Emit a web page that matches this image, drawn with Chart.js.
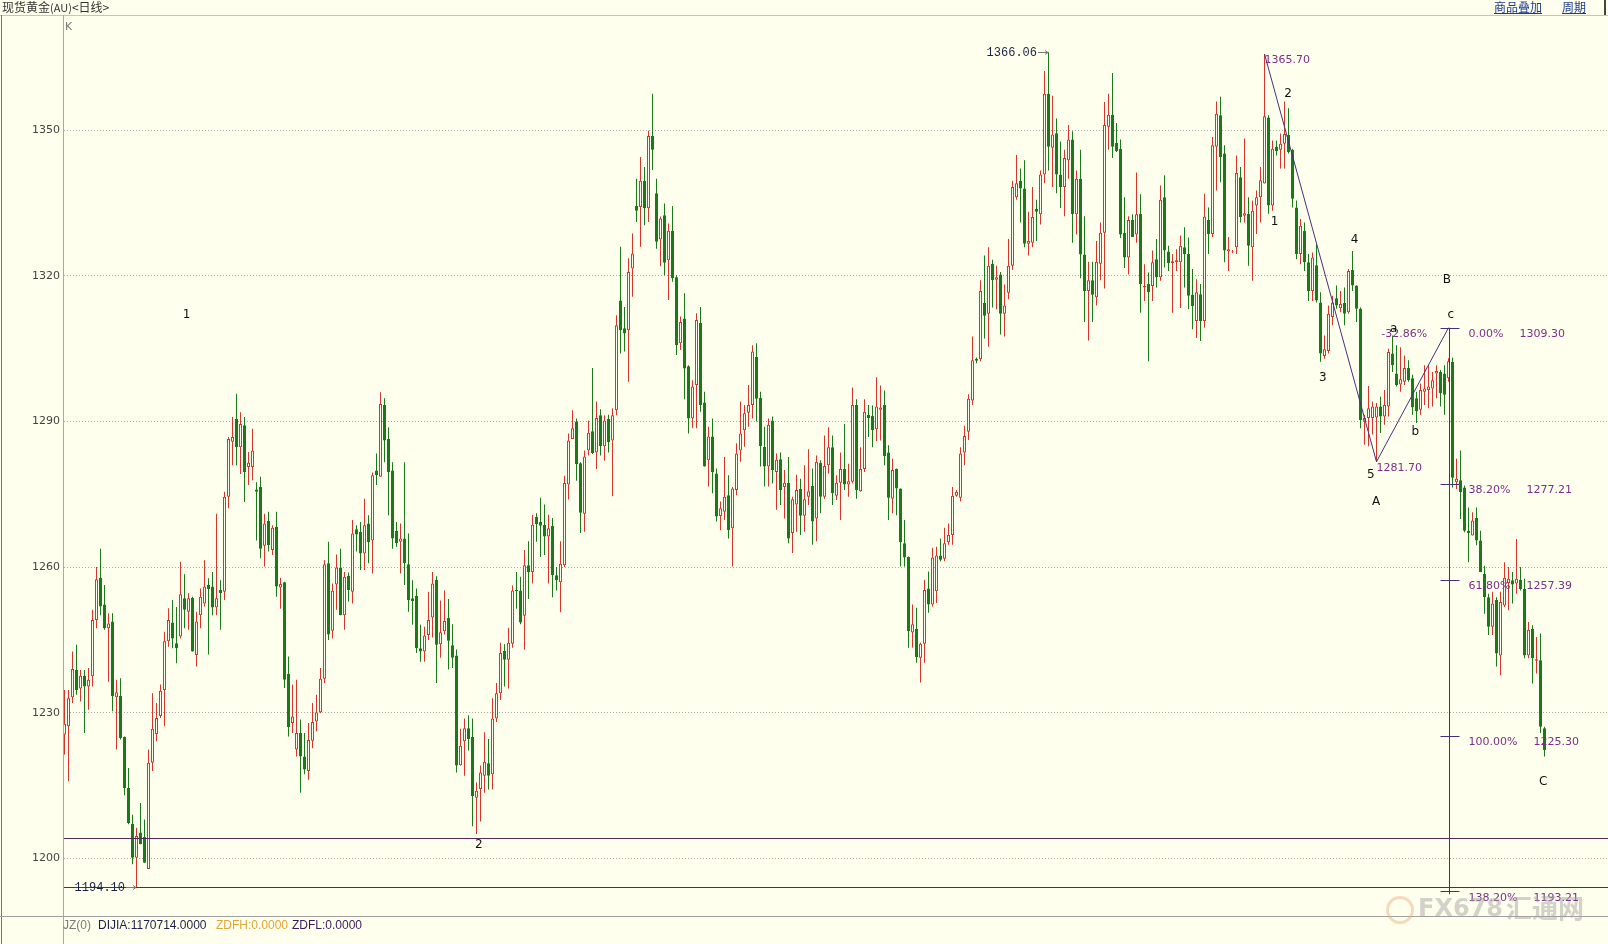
<!DOCTYPE html>
<html><head><meta charset="utf-8">
<script src="https://cdn.jsdelivr.net/npm/chart.js@4.4.0/dist/chart.umd.min.js"></script>
<style>
html,body{margin:0;padding:0;background:#ffffee;width:1608px;height:944px;overflow:hidden;}
#wrap{position:relative;width:1608px;height:944px;}
canvas{position:absolute;left:0;top:0;}
.abs{position:absolute;white-space:nowrap;}
.ln{position:absolute;}
</style></head><body>
<div id="wrap">
<canvas id="c" width="1608" height="944"></canvas>
<div class="abs" style="left:2px;top:0px;font:12px 'Noto Sans CJK SC';line-height:14px;color:#333;">现货黄金<span style="font-size:11px">(AU)</span>&lt;日线&gt;</div>
<div class="abs" style="left:1494px;top:0px;font:12px 'Noto Sans CJK SC';line-height:14px;color:#1b3c8f;text-decoration:underline;">商品叠加</div>
<div class="abs" style="left:1562px;top:0px;font:12px 'Noto Sans CJK SC';line-height:14px;color:#1b3c8f;text-decoration:underline;">周期</div>
<div class="ln" style="left:1604px;top:0;width:2px;height:15px;background:#444;"></div>
<div class="ln" style="left:0;top:15px;width:1608px;height:1px;background:#c4c4c4;"></div>
<div class="ln" style="left:63px;top:15px;width:1px;height:929px;background:#a8a8a8;"></div>
<div class="ln" style="left:1px;top:15px;width:1px;height:929px;background:#5f7896;"></div>
<div class="ln" style="left:0;top:916px;width:1608px;height:1px;background:#a0a0a0;"></div>
<div class="abs" style="left:65px;top:20px;font:11px 'DejaVu Sans';line-height:14px;color:#777;">K</div>
<div class="abs" style="left:63px;top:918px;font:12px 'Liberation Sans';line-height:14px;color:#7a7a7a;">JZ(0)</div>
<div class="abs" style="left:98px;top:918px;font:12px 'Liberation Sans';line-height:14px;color:#1c1f4a;">DIJIA:1170714.0000</div>
<div class="abs" style="left:216px;top:918px;font:12px 'Liberation Sans';line-height:14px;color:#e0a43a;">ZDFH:0.0000</div>
<div class="abs" style="left:292px;top:918px;font:12px 'Liberation Sans';line-height:14px;color:#3a1c5a;">ZDFL:0.0000</div>
<div class="abs" style="left:1386px;top:896px;width:22px;height:22px;border-radius:50%;border:3px solid rgba(235,170,120,0.45);"></div>
<div class="abs" style="left:1418px;top:893px;font:bold 24px 'DejaVu Sans';line-height:30px;color:rgba(165,165,165,0.5);">FX678</div>
<div class="abs" style="left:1506px;top:892px;font:bold 26px 'Noto Sans CJK SC';line-height:30px;color:rgba(165,165,165,0.5);">汇通网</div>
</div>
<script>
// ---- data (daily candles) ----
const openP = [
1225.5,1227.2,1233.2,1238.8,1235.0,1237.6,1235.4,1237.5,1249.1,1257.8,
1252.3,1247.4,1248.8,1233.2,1233.5,1225.0,1214.5,1207.1,1200.1,1205.3,
1204.4,1197.8,1219.7,1225.6,1229.3,1234.7,1244.7,1248.6,1244.3,1245.7,
1253.6,1250.8,1253.7,1241.9,1250.1,1252.5,1256.3,1256.0,1251.7,1255.3,
1254.9,1274.5,1285.8,1290.5,1284.7,1289.2,1280.6,1280.6,1276.0,1276.5,
1264.4,1269.5,1263.5,1268.3,1255.8,1256.9,1238.0,1227.9,1222.4,1225.8,
1221.0,1218.0,1224.2,1228.2,1230.1,1237.0,1260.8,1246.9,1256.4,1259.9,
1250.1,1258.2,1254.9,1267.8,1267.3,1262.8,1269.0,1265.5,1279.9,1278.6,
1293.4,1286.4,1279.9,1267.5,1265.2,1265.9,1260.6,1253.6,1254.1,1243.3,
1242.6,1246.0,1249.6,1257.4,1244.1,1246.8,1249.5,1243.9,1241.8,1219.2,
1224.1,1226.8,1225.0,1212.5,1214.3,1217.0,1219.6,1217.3,1228.8,1234.0,
1242.7,1240.9,1244.2,1255.3,1255.2,1250.0,1260.4,1259.0,1270.3,1269.3,
1268.7,1266.3,1268.5,1258.3,1256.9,1260.4,1277.0,1286.4,1290.0,1281.4,
1271.0,1284.0,1288.0,1283.6,1291.3,1284.9,1290.5,1286.1,1292.3,1314.9,
1309.2,1308.8,1321.5,1334.4,1334.2,1339.6,1333.9,1348.8,1337.0,1327.5,
1332.5,1323.2,1329.3,1319.7,1306.1,1311.2,1301.4,1290.6,1297.5,1310.3,
1293.9,1282.0,1286.9,1279.3,1270.5,1271.4,1274.8,1268.0,1275.9,1284.0,
1288.2,1291.8,1293.4,1303.3,1294.9,1284.8,1280.7,1290.2,1279.6,1282.2,
1276.5,1277.4,1267.0,1272.9,1276.1,1270.6,1274.5,1276.7,1270.0,1281.5,
1274.5,1281.0,1284.7,1274.7,1277.4,1280.2,1277.0,1277.6,1293.4,1275.6,
1280.2,1291.4,1291.1,1288.4,1292.4,1293.4,1283.6,1274.1,1280.2,1276.2,
1264.9,1262.1,1246.5,1247.3,1241.3,1244.2,1255.6,1252.3,1255.0,1262.4,
1261.7,1265.1,1266.6,1274.7,1274.3,1283.6,1287.9,1294.3,1302.9,1302.8,
1314.4,1312.2,1322.5,1319.2,1320.3,1312.2,1316.5,1322.1,1336.2,1339.6,
1338.0,1326.6,1326.8,1333.8,1332.7,1340.9,1357.5,1346.4,1349.4,1340.9,
1338.3,1343.8,1348.1,1332.7,1340.0,1324.4,1316.9,1319.1,1315.6,1322.5,
1328.9,1350.7,1353.2,1347.4,1346.2,1328.9,1323.8,1331.5,1328.5,1332.8,
1317.6,1318.3,1317.9,1323.4,1319.7,1336.2,1325.0,1322.6,1322.8,1322.8,
1325.9,1324.5,1316.1,1310.7,1316.2,1310.7,1331.5,1328.6,1346.6,1353.1,
1345.2,1325.0,1325.0,1325.9,1340.3,1332.4,1332.8,1325.9,1334.5,1336.2,
1339.0,1352.6,1334.5,1346.6,1346.0,1347.2,1349.0,1345.9,1334.1,1324.5,
1329.3,1322.8,1316.9,1322.2,1314.5,1303.5,1304.5,1311.5,1315.4,1313.3,
1314.4,1312.5,1321.2,1318.0,1313.2,1290.0,1290.7,1290.7,1290.8,1293.1,
1291.0,1293.1,1304.0,1299.9,1297.6,1298.2,1301.0,1298.9,1294.8,1292.4,
1296.1,1296.5,1296.8,1299.9,1300.2,1299.9,1298.9,1302.3,1277.5,1277.9,
1276.4,1267.5,1266.5,1270.1,1265.5,1258.6,1253.8,1247.7,1253.2,1241.8,
1252.1,1256.7,1257.3,1256.6,1257.4,1255.5,1241.8,1247.3,1240.7,1240.8,1226.8
];
const highP = [
1234.7,1234.7,1242.6,1244.0,1238.8,1238.8,1239.2,1251.2,1260.0,1263.8,
1256.3,1250.5,1250.5,1236.8,1237.1,1225.1,1218.6,1209.0,1206.3,1211.4,
1208.0,1222.4,1234.0,1232.0,1235.8,1246.7,1251.5,1253.2,1251.8,1261.1,
1258.5,1254.6,1253.9,1250.8,1255.6,1261.4,1257.7,1259.0,1271.0,1257.3,
1275.5,1286.8,1290.9,1295.7,1291.9,1290.9,1283.7,1288.5,1277.5,1278.6,
1271.0,1271.4,1268.6,1271.4,1257.8,1257.0,1241.6,1235.8,1236.8,1228.6,
1225.8,1227.9,1232.0,1233.7,1239.2,1261.4,1265.2,1256.6,1262.6,1263.8,
1259.0,1258.9,1269.7,1268.6,1269.3,1274.1,1270.7,1279.5,1283.4,1296.0,
1294.8,1288.8,1281.6,1269.3,1269.0,1281.6,1266.9,1257.3,1255.6,1248.1,
1247.7,1254.9,1259.0,1258.1,1253.1,1255.2,1253.4,1248.2,1243.0,1226.7,
1228.8,1229.5,1228.8,1215.6,1219.1,1226.0,1224.6,1233.0,1236.1,1244.4,
1244.1,1247.5,1256.2,1259.0,1258.0,1263.5,1265.3,1270.8,1271.1,1274.3,
1272.9,1270.8,1270.1,1260.0,1265.3,1278.8,1287.5,1292.3,1290.6,1281.6,
1284.0,1290.2,1301.0,1294.1,1292.5,1291.3,1291.4,1292.7,1311.9,1326.0,
1313.6,1323.6,1328.7,1340.0,1344.5,1342.4,1349.9,1357.5,1340.0,1332.2,
1334.9,1330.8,1334.4,1320.1,1311.6,1316.4,1301.6,1298.5,1312.3,1313.6,
1296.1,1288.9,1290.6,1280.3,1273.5,1282.7,1278.9,1276.5,1285.5,1294.1,
1293.4,1297.5,1305.7,1306.1,1296.1,1288.9,1290.6,1291.0,1283.4,1283.6,
1280.0,1282.7,1274.5,1279.0,1278.2,1281.0,1284.3,1280.3,1283.0,1282.0,
1287.1,1288.8,1287.1,1278.9,1283.6,1289.5,1281.3,1297.0,1294.6,1284.7,
1294.6,1293.4,1293.3,1299.1,1297.4,1296.4,1285.1,1282.3,1280.3,1276.2,
1269.7,1262.2,1252.3,1251.6,1244.4,1257.4,1259.1,1264.0,1264.2,1265.9,
1268.1,1269.0,1276.5,1275.9,1284.7,1289.1,1295.6,1307.5,1303.2,1319.1,
1324.2,1325.9,1323.3,1322.1,1320.8,1318.2,1327.6,1339.6,1344.9,1342.1,
1343.8,1333.2,1338.3,1335.7,1341.7,1362.2,1366.06,1357.1,1352.4,1347.7,
1346.0,1351.1,1349.8,1341.7,1346.0,1332.3,1322.9,1322.9,1327.2,1331.0,
1355.8,1357.5,1361.8,1351.5,1348.1,1336.2,1332.3,1332.7,1341.3,1336.8,
1322.4,1320.7,1325.2,1327.6,1338.6,1340.7,1326.2,1324.5,1325.5,1328.3,
1330.0,1327.9,1321.4,1319.3,1318.3,1336.9,1334.1,1348.6,1355.9,1356.9,
1346.9,1328.0,1325.3,1344.8,1342.4,1348.3,1336.2,1335.5,1337.6,1342.4,
1365.7,1353.1,1347.9,1347.9,1349.3,1355.9,1354.5,1346.2,1335.5,1331.7,
1331.0,1324.5,1324.8,1326.5,1316.6,1307.7,1313.9,1315.9,1318.0,1316.9,
1317.6,1321.4,1325.1,1318.0,1313.5,1291.4,1297.3,1294.1,1293.8,1295.1,
1296.5,1305.0,1307.7,1305.7,1305.3,1303.6,1302.6,1299.6,1296.1,1297.8,
1301.6,1301.6,1300.2,1301.6,1300.6,1301.6,1303.0,1303.2,1282.3,1284.0,
1276.8,1272.3,1271.3,1272.3,1267.5,1260.3,1254.5,1254.9,1253.8,1254.9,
1261.0,1260.0,1259.0,1265.8,1260.0,1257.6,1248.7,1248.0,1245.6,1246.3,1227.1
];
const lowP = [
1221.4,1215.9,1232.0,1233.7,1232.3,1225.8,1230.6,1235.4,1247.4,1250.1,
1247.1,1236.4,1230.3,1222.4,1224.5,1213.0,1207.0,1198.8,1194.1,1202.9,
1199.1,1197.8,1218.0,1224.1,1228.9,1227.2,1243.6,1243.3,1240.2,1245.3,
1247.4,1247.1,1242.6,1239.5,1247.4,1251.9,1242.0,1250.1,1250.1,1247.1,
1253.2,1272.1,1281.0,1281.0,1279.2,1273.4,1276.9,1277.9,1265.5,1261.8,
1260.1,1263.2,1262.5,1253.9,1251.4,1235.1,1225.1,1225.8,1221.0,1213.5,
1217.3,1216.2,1222.7,1226.2,1229.9,1236.1,1245.0,1245.3,1251.2,1250.1,
1247.1,1252.9,1252.5,1263.2,1259.4,1259.4,1260.8,1258.7,1276.9,1278.6,
1281.6,1270.7,1263.8,1264.2,1258.7,1256.3,1250.8,1248.1,1242.3,1240.5,
1240.5,1245.0,1245.5,1236.1,1241.3,1246.1,1238.9,1239.2,1217.7,1219.1,
1217.0,1222.2,1206.6,1205.0,1207.6,1213.5,1214.2,1214.2,1228.1,1232.6,
1235.4,1235.0,1243.4,1251.4,1248.2,1243.0,1253.4,1256.6,1265.2,1262.1,
1262.5,1256.6,1253.8,1255.2,1250.7,1260.0,1273.9,1286.4,1277.8,1267.0,
1267.3,1283.0,1283.3,1280.2,1283.0,1281.9,1283.6,1274.6,1291.3,1304.0,
1304.4,1298.2,1315.7,1331.1,1326.0,1330.4,1331.1,1341.8,1325.6,1322.0,
1320.1,1315.0,1318.8,1303.7,1304.7,1294.6,1287.5,1288.6,1288.6,1292.0,
1280.7,1276.6,1275.2,1269.4,1267.6,1269.7,1265.9,1260.1,1274.8,1281.7,
1284.8,1288.9,1290.6,1290.0,1280.7,1276.6,1276.6,1277.2,1271.8,1272.8,
1270.0,1264.9,1262.9,1267.3,1266.6,1267.3,1272.8,1264.6,1265.3,1271.1,
1274.1,1279.3,1272.8,1273.8,1269.7,1275.9,1274.5,1277.2,1274.1,1275.5,
1279.6,1286.8,1284.7,1285.9,1286.1,1281.0,1269.7,1271.1,1270.7,1260.1,
1260.1,1243.4,1243.4,1240.3,1236.2,1240.3,1250.6,1251.9,1252.6,1261.2,
1261.2,1264.6,1264.6,1274.5,1273.5,1281.0,1286.2,1293.4,1302.0,1302.4,
1307.1,1305.4,1313.5,1313.1,1307.9,1307.5,1315.2,1321.2,1335.7,1331.0,
1325.9,1324.2,1325.9,1327.2,1330.6,1339.1,1341.7,1338.3,1337.0,1334.0,
1332.3,1340.0,1326.8,1328.5,1319.5,1310.5,1306.7,1310.5,1313.9,1319.1,
1317.4,1346.0,1344.3,1345.5,1327.8,1321.6,1320.3,1328.0,1326.8,1312.4,
1314.8,1302.4,1314.8,1317.6,1319.0,1321.7,1321.0,1312.4,1321.0,1313.4,
1317.6,1313.1,1309.0,1307.2,1306.6,1309.3,1324.5,1328.0,1337.6,1339.3,
1322.8,1321.0,1324.7,1324.5,1331.0,1331.0,1322.1,1319.0,1328.6,1331.0,
1339.0,1332.8,1333.4,1344.8,1342.1,1342.1,1345.2,1334.1,1323.4,1322.4,
1321.0,1314.8,1314.8,1314.5,1302.3,1302.9,1304.0,1309.8,1313.2,1312.5,
1309.8,1312.2,1316.9,1310.5,1288.6,1285.2,1284.9,1287.3,1281.7,1287.6,
1289.3,1291.0,1300.2,1297.2,1296.1,1297.5,1298.2,1291.4,1289.7,1291.4,
1293.4,1292.7,1293.1,1294.8,1293.1,1291.4,1298.2,1276.4,1276.1,1269.9,
1267.2,1261.0,1266.5,1264.5,1259.0,1250.4,1246.0,1246.0,1239.5,1237.7,
1251.8,1251.1,1252.5,1254.5,1255.2,1241.2,1241.2,1236.0,1238.1,1225.8,1221.0
];
const closeP = [
1227.7,1233.0,1239.0,1234.7,1237.6,1235.4,1236.8,1249.1,1257.5,1251.9,
1247.4,1248.4,1233.4,1234.2,1224.8,1214.5,1207.3,1200.1,1204.6,1202.9,
1199.1,1219.7,1226.7,1228.9,1234.5,1244.7,1249.1,1245.3,1243.3,1254.4,
1251.2,1253.6,1242.6,1248.8,1253.9,1256.0,1255.5,1251.7,1253.6,1254.6,
1274.5,1286.4,1286.8,1284.7,1289.5,1279.6,1281.5,1284.0,1275.5,1263.8,
1269.0,1264.5,1268.1,1256.0,1256.5,1236.8,1227.0,1229.2,1225.8,1221.0,
1218.3,1224.4,1228.1,1230.1,1237.0,1260.6,1246.1,1255.1,1259.9,1250.1,
1258.0,1255.3,1266.9,1266.7,1262.8,1268.6,1265.1,1278.9,1278.9,1293.6,
1286.1,1279.6,1265.9,1264.9,1265.9,1260.8,1253.2,1253.0,1243.3,1242.6,
1245.9,1249.1,1256.6,1244.0,1246.6,1248.9,1244.8,1241.3,1219.1,1223.2,
1226.8,1224.6,1212.8,1213.9,1217.7,1219.9,1217.0,1228.8,1234.0,1242.3,
1240.9,1244.4,1255.2,1255.0,1248.6,1260.4,1259.0,1268.7,1268.9,1268.5,
1266.3,1268.0,1258.3,1257.3,1260.7,1277.3,1286.1,1288.6,1281.2,1271.2,
1282.8,1287.7,1283.5,1290.7,1284.9,1290.2,1285.7,1291.3,1309.8,1308.8,
1308.1,1320.8,1324.6,1333.4,1339.6,1333.9,1348.8,1346.0,1327.0,1331.8,
1322.7,1329.3,1319.5,1305.7,1310.5,1300.9,1290.6,1297.2,1310.9,1293.4,
1280.7,1286.9,1279.6,1270.4,1272.1,1274.5,1267.6,1276.2,1283.4,1287.5,
1291.7,1293.4,1304.4,1294.7,1284.9,1280.7,1289.3,1280.0,1282.1,1275.9,
1277.4,1265.9,1274.0,1275.9,1270.6,1274.0,1275.6,1269.4,1281.7,1274.5,
1280.8,1284.7,1275.2,1277.4,1280.2,1277.0,1277.7,1293.4,1275.9,1280.2,
1292.0,1290.7,1288.2,1293.1,1292.9,1282.9,1274.3,1280.0,1276.2,1265.1,
1262.0,1246.8,1248.2,1241.5,1244.2,1255.3,1252.3,1262.0,1262.4,1261.5,
1264.9,1266.6,1274.7,1275.5,1283.4,1287.0,1294.7,1302.6,1302.5,1316.9,
1311.8,1322.1,1319.1,1319.7,1312.2,1313.9,1322.1,1338.3,1339.1,1338.0,
1326.6,1327.2,1332.1,1333.2,1340.9,1357.5,1346.6,1349.1,1340.9,1338.3,
1344.3,1348.1,1332.7,1340.0,1324.4,1316.9,1319.1,1316.1,1322.9,1328.9,
1351.1,1353.2,1346.6,1345.7,1328.5,1323.8,1331.5,1328.0,1332.7,1318.3,
1317.9,1316.6,1322.8,1319.7,1335.7,1325.2,1322.6,1323.0,1323.2,1326.2,
1324.5,1315.9,1313.8,1316.6,1310.7,1332.2,1328.6,1346.9,1353.4,1344.5,
1325.2,1325.5,1325.1,1341.2,1332.1,1332.9,1326.2,1333.4,1336.2,1339.7,
1352.9,1334.5,1346.2,1345.7,1347.2,1349.2,1345.5,1335.9,1324.5,1330.3,
1322.8,1316.9,1323.8,1314.9,1304.0,1304.9,1312.2,1314.5,1313.9,1314.2,
1312.2,1321.0,1318.0,1313.2,1290.3,1290.7,1292.7,1293.1,1293.1,1291.0,
1293.4,1304.3,1301.6,1297.5,1298.7,1301.0,1298.5,1292.9,1292.1,1296.5,
1296.8,1297.2,1298.5,1300.4,1295.8,1295.5,1302.4,1278.4,1278.2,1275.4,
1267.5,1267.0,1269.6,1265.5,1259.0,1253.8,1247.7,1252.5,1242.2,1252.8,
1257.8,1257.6,1256.4,1257.6,1255.5,1241.8,1247.1,1241.2,1241.0,1227.1,1222.3
];
const yTicks = [1200, 1230, 1260, 1290, 1320, 1350];

// annotation values
const levelPrices = [1204.2, 1194.1];
const waveIdx = [300, 328, 346];
const wavePrice = [1365.70, 1281.70, 1309.30];
const fibIdx = 346;
const fibPct = ['0.00%', '38.20%', '61.80%', '100.00%', '138.20%'];
const fibPrice = [1309.30, 1277.21, 1257.39, 1225.30, 1193.21];
const waveText = ['1', '2', '1', '2', '3', '4', '5', 'a', 'b', 'c', 'B', 'A', 'C'];
const waveTextIdx = [30.5, 103.6, 302.5, 305.9, 314.6, 322.5, 326.6, 332.3, 337.7, 346.6, 345.6, 327.9, 369.7];
const waveTextPrice = [1312.0, 1202.7, 1331.2, 1357.4, 1298.9, 1327.4, 1279.0, 1309.0, 1287.9, 1312.0, 1319.1, 1273.5, 1215.8];
const ratioText = '-32.86%';
const ratioIdx = 329.2, ratioPrice = 1308.0;

const RED = '#d9342b', GREEN = '#19791b', BG = '#ffffee';
const LEVEL_COLOR = '#512a60', WAVE_COLOR = '#43307e', FIB_TEXT = '#7b2f86';

const idx = openP.map((_, i) => i);
const up = idx.map(i => closeP[i] >= openP[i]);

const annotPlugin = {
  id: 'annot',
  afterDatasetsDraw(chart) {
    const {ctx, chartArea: a, scales: {x, y}} = chart;
    const X = v => x.getPixelForValue(v), Y = v => y.getPixelForValue(v);
    const crisp = v => Math.round(v) + 0.5;
    const seg = (x1, y1, x2, y2) => { ctx.beginPath(); ctx.moveTo(x1, y1); ctx.lineTo(x2, y2); ctx.stroke(); };
    ctx.save();
    ctx.beginPath(); ctx.rect(a.left, a.top, a.right - a.left, a.bottom - a.top); ctx.clip();
    ctx.lineWidth = 1;
    // horizontal levels
    ctx.strokeStyle = LEVEL_COLOR;
    levelPrices.forEach(v => { const yy = crisp(Y(v)); seg(a.left, yy, a.right, yy); });
    // wave polyline
    ctx.strokeStyle = WAVE_COLOR;
    ctx.beginPath();
    waveIdx.forEach((v, k) => { const px = X(v), py = Y(wavePrice[k]); if (k) ctx.lineTo(px, py); else ctx.moveTo(px, py); });
    ctx.stroke();
    // fib vertical + ticks
    const fx = crisp(X(fibIdx));
    seg(fx, Y(fibPrice[0]), fx, Y(fibPrice[fibPrice.length - 1]) + 3);
    fibPrice.forEach(v => { const yy = crisp(Y(v)); seg(fx - 9, yy, fx + 10, yy); });
    // fib text
    ctx.font = '11px "DejaVu Sans"';
    ctx.fillStyle = FIB_TEXT; ctx.textBaseline = 'middle'; ctx.textAlign = 'left';
    fibPct.forEach((t, k) => {
      const yy = Y(fibPrice[k]) + 6.5, x0 = fx + 19;
      ctx.fillText(t, x0, yy);
      ctx.fillText(fibPrice[k].toFixed(2), x0 + ctx.measureText(t).width + 16, yy);
    });
    // wave point values
    waveIdx.slice(0, 2).forEach((v, k) => {
      ctx.fillText(wavePrice[k].toFixed(2), X(v), Y(wavePrice[k]) + 6.5);
    });
    ctx.fillText(ratioText, X(ratioIdx), Y(ratioPrice));
    // wave labels
    ctx.font = '12px "DejaVu Sans"'; ctx.fillStyle = '#111'; ctx.textAlign = 'center';
    waveText.forEach((t, k) => ctx.fillText(t, X(waveTextIdx[k]), Y(waveTextPrice[k])));
    // max / min tags
    let hi = 0, lo = 0;
    highP.forEach((v, i) => { if (v > highP[hi]) hi = i; });
    lowP.forEach((v, i) => { if (v < lowP[lo]) lo = i; });
    [[hi, highP[hi]], [lo, lowP[lo]]].forEach(([i, v]) => {
      const cx = Math.round(X(i)), cy = crisp(Y(v));
      ctx.strokeStyle = '#7a7a7a';
      seg(cx - 11, cy, cx - 1, cy);
      seg(cx - 4, cy - 2, cx - 1, cy); seg(cx - 4, cy + 2, cx - 1, cy);
      ctx.font = '12px "Liberation Mono"'; ctx.fillStyle = '#1c2444'; ctx.textAlign = 'right';
      ctx.fillText(v.toFixed(2), cx - 12, cy);
    });
    ctx.restore();
  }
};

const chart = new Chart(document.getElementById('c'), {
  type: 'bar',
  data: {
    datasets: [
      {
        label: 'body',
        data: idx.map(i => ({x: i, y: [Math.min(openP[i], closeP[i]), Math.max(openP[i], closeP[i])]})),
        backgroundColor: idx.map(i => up[i] ? BG : GREEN),
        borderColor: idx.map(i => up[i] ? RED : GREEN),
        borderWidth: 1, borderSkipped: false, barThickness: 3, grouped: false, inflateAmount: 0, order: 1
      },
      {
        label: 'wick',
        data: idx.map(i => ({x: i, y: [lowP[i], highP[i]]})),
        backgroundColor: idx.map(i => up[i] ? RED : GREEN),
        borderWidth: 0, barThickness: 1, grouped: false, inflateAmount: 0, order: 2
      }
    ]
  },
  options: {
    responsive: false, animation: false, devicePixelRatio: 1,
    layout: {padding: {top: 16, bottom: 28, left: 0, right: 0}},
    plugins: {legend: {display: false}, tooltip: {enabled: false}},
    scales: {
      x: {type: 'linear', min: -0.125, max: 385.875, display: false, offset: false},
      y: {
        type: 'linear', min: 1188.12, max: 1373.53, position: 'left',
        afterFit(s) { s.width = 64; },
        afterBuildTicks(s) { s.ticks = yTicks.map(v => ({value: v})); },
        ticks: {color: '#444', font: {family: 'DejaVu Sans', size: 11}, padding: 4, callback: v => String(v)},
        grid: {color: '#a8a8a8', lineWidth: 1, drawTicks: false},
        border: {display: false, dash: [1, 2]}
      }
    }
  },
  plugins: [annotPlugin]
});
</script>
</body></html>
